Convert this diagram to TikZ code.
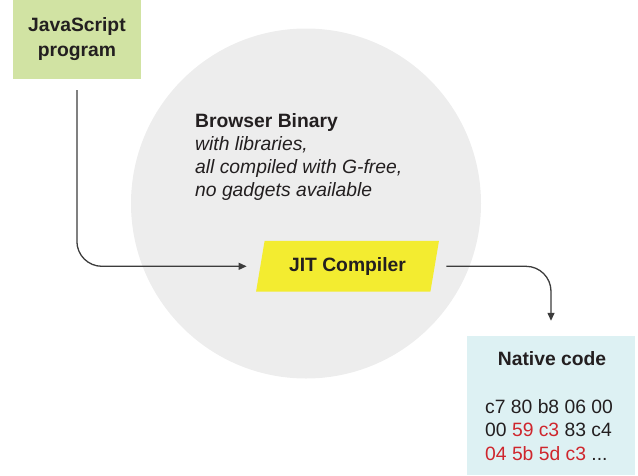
\documentclass[tikz,border=0pt]{standalone}
\usepackage{fontspec}
\setmainfont{Liberation Sans}
\usetikzlibrary{shapes.geometric,arrows.meta}
\definecolor{jsgreen}{HTML}{D1E3A3}
\definecolor{bingray}{HTML}{EDEDED}
\definecolor{jityellow}{HTML}{F3EC30}
\definecolor{nativecyan}{HTML}{DDF1F3}
\definecolor{codered}{HTML}{CF262D}
\definecolor{ink}{HTML}{231F20}
\definecolor{wire}{HTML}{3C3C3C}
\begin{document}
\begin{tikzpicture}[x=1pt,y=-1pt,
  txt/.style={text=ink,font=\fontsize{19.3}{25}\selectfont},
  jsbox/.style={txt,fill=jsgreen,minimum width=127.7pt,minimum height=79pt,inner sep=0pt,align=center,font=\fontsize{19.3}{25}\selectfont\bfseries},
  bincircle/.style={circle,fill=bingray,minimum size=350pt,inner sep=0pt},
  jitbox/.style={txt,trapezium,trapezium left angle=71.5,trapezium right angle=108.5,trapezium stretches=true,fill=jityellow,minimum width=183pt,minimum height=50.7pt,inner sep=0pt,font=\fontsize{19.3}{25}\selectfont\bfseries},
  nbox/.style={fill=nativecyan,minimum width=168pt,minimum height=139pt,inner sep=0pt},
  conn/.style={draw=wire,line width=1.3pt,rounded corners=25pt,-{Triangle[length=8pt,width=7pt]}}]
\useasboundingbox (0,0) rectangle (638,475);
\node[bincircle] (bin) at (306,203.5) {};
\node[jsbox] (js) at (76.9,39.5) {JavaScript\\program};
\node[txt,anchor=north west,inner sep=0pt,align=left,font=\fontsize{19.3}{23}\selectfont] (bintext) at (195,113.1)
  {\textbf{Browser Binary}\\ \textit{with libraries,}\\ \textit{all compiled with G-free,}\\ \textit{no gadgets available}};
\node[jitbox] (jit) at (347.5,266.3) {JIT Compiler};
\node[nbox] (native) at (551,405.5) {};
\node[txt,font=\fontsize{19.3}{25}\selectfont\bfseries] (ntitle) at (552,359) {Native code};
\node[txt,anchor=north west,inner sep=0pt,align=left,font=\fontsize{19.3}{23.5}\selectfont] (ncode) at (485,399.2)
  {c7 80 b8 06 00\\ 00 \textcolor{codered}{59 c3} 83 c4\\ \textcolor{codered}{04 5b 5d c3} ...};
\draw[conn] ([yshift=-11pt]js.south) |- ([xshift=-13.5pt]jit.west);
\draw[conn] ([xshift=11.5pt]jit.east) -| ([yshift=15pt]native.north);
\end{tikzpicture}
\end{document}
